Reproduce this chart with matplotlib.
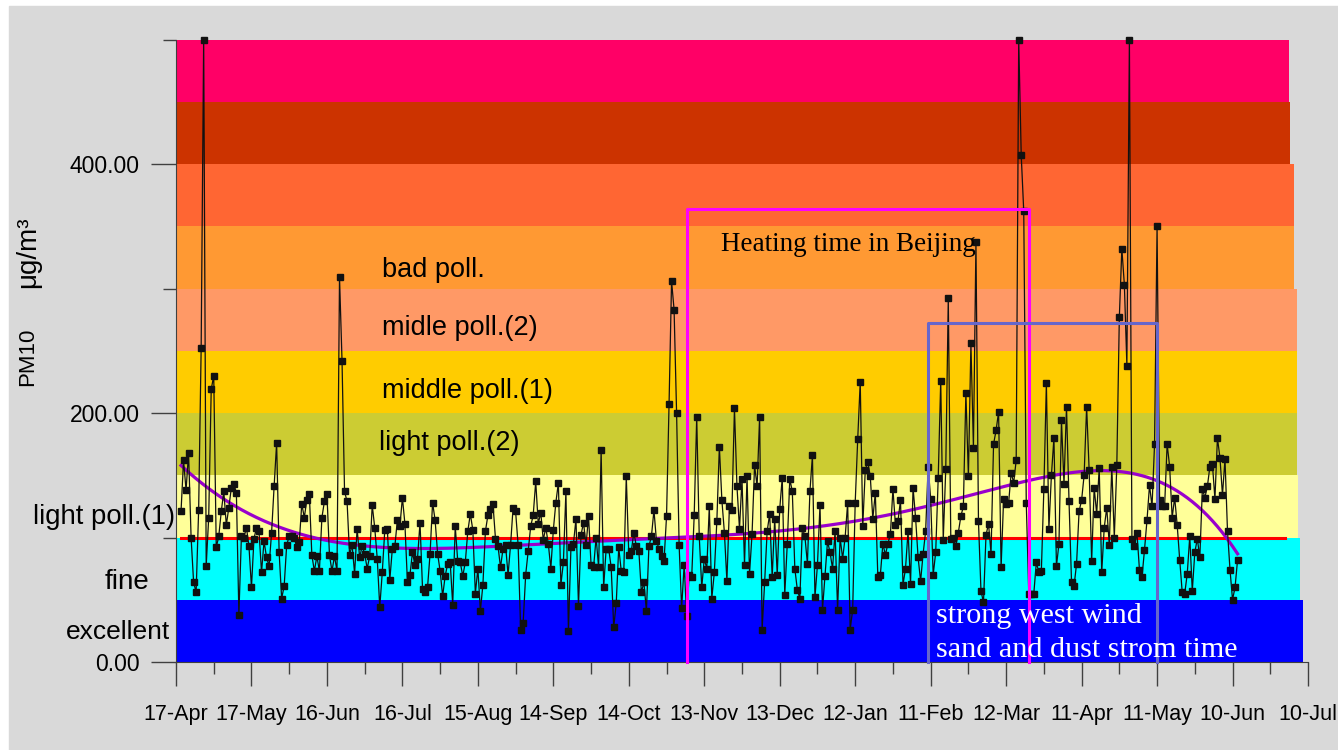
import numpy as np
import matplotlib.pyplot as plt
from matplotlib.patches import Rectangle

plt.rcParams['font.family'] = ['Liberation Sans', 'DejaVu Sans']

# daily PM10 (ug/m3), first value is 19-Apr (day 2 after 17-Apr)
pm10 = [
    121, 162, 138, 168, 100, 64, 56, 122, 252, 500, 77, 116, 219, 230, 92, 101,
    121, 137, 110, 124, 140, 143, 136, 38, 101, 100, 108, 93, 60, 99, 108, 105,
    72, 97, 84, 77, 104, 141, 176, 88, 51, 61, 94, 101, 101, 100, 92, 96,
    127, 116, 130, 135,
    86, 73, 85, 73, 116, 129, 135, 86, 73, 85, 73, 309, 242, 137, 129, 86,
    94, 71, 107, 84, 93, 87, 75, 85, 126, 108, 83, 44, 72, 106, 107, 66,
    91, 93, 114, 109, 132, 111, 64, 70, 88, 78, 83, 112, 59, 56, 60, 87,
    128, 114, 87, 73,
    53, 69, 79, 80, 46, 109, 81, 80, 69, 80, 105, 119, 106, 55, 75, 41,
    62, 105, 118, 123, 127, 99, 93, 76, 91, 94, 70, 94, 124, 121, 94, 26,
    31, 70, 89, 109, 118, 145, 111, 120, 98, 108, 95, 75, 106, 128, 144, 62,
    80, 137, 25, 92, 95, 115, 45,
    102, 112, 94, 117, 78, 76, 100, 76, 170, 60, 91, 91, 76, 28, 47, 92,
    73, 72, 149, 86, 89, 104, 93, 89, 56, 64, 41, 93, 101, 122, 97, 91,
    85, 81, 117, 207, 306, 283, 200, 94, 43, 78, 37, 70, 68, 118, 197, 101,
    60, 83, 75, 125, 51, 72,
    113, 173, 130, 104, 65, 125, 122, 204, 141, 107, 147, 78, 149, 71, 103, 158,
    141, 197, 26, 64, 105, 119, 68, 115, 70, 123, 148, 54, 95, 147, 137, 75,
    58, 51, 108, 101, 79, 137, 166, 52, 78, 126, 42, 69, 97, 88, 75, 105,
    42, 100, 83, 100, 128, 26,
    42, 128, 179, 225, 109, 154, 161, 149, 115, 136, 68, 70, 95, 86, 95, 103,
    139, 110, 113, 130, 62, 75, 105, 63, 140, 116, 84, 65, 87, 105, 157, 131,
    70, 88, 148, 226, 98, 155, 292, 99, 100, 93, 104, 117, 125, 216, 149, 256,
    172, 337, 113, 57, 48, 102,
    111, 87, 175, 186, 201, 76, 131, 127, 128, 152, 144, 162, 500, 407, 362, 128,
    55, 55, 55, 80, 72, 73, 139, 224, 107, 150, 180, 77, 95, 194, 143, 205,
    129, 64, 61, 79, 121, 130, 150, 205, 154, 81, 140, 119, 156, 72, 108, 124,
    94, 157, 100, 158,
    277, 332, 303, 238, 500, 99, 93, 104, 74, 68, 90, 114, 142, 125, 175, 350,
    130, 125, 125, 175, 157, 116, 132, 110, 82, 56, 55, 71, 101, 57, 88, 99,
    84, 139, 132, 141, 157, 159, 131, 180, 164, 134, 163, 105, 74, 50, 60, 82,
]
start_day = 2

date_labels = ['17-Apr', '17-May', '16-Jun', '16-Jul', '15-Aug', '14-Sep', '14-Oct',
               '13-Nov', '13-Dec', '12-Jan', '11-Feb', '12-Mar', '11-Apr', '11-May',
               '10-Jun', '10-Jul']

# pollution grade bands
band_edges = [0, 50, 100, 150, 200, 250, 300, 350, 400, 450, 500]
band_colors = ['#0000FF', '#00FFFF', '#FFFF99', '#CCCC33', '#FFCC00',
               '#FF9966', '#FF9933', '#FF6633', '#CC3300', '#FF0066']
band_ends = [448, 447, 446, 445.6, 445.6, 445.6, 444.4, 444.4, 442.9, 442.5]

heating = (203.2, 339, 364)      # start day, end day, box top
sandstorm = (298.8, 390, 272)

fig = plt.figure(figsize=(13.38, 7.5), dpi=100)
fig.patches.append(Rectangle((9 / 1338, 0), 1, 744 / 750, transform=fig.transFigure,
                             color='#D9D9D9', zorder=-10))
ax = fig.add_axes([176 / 1338, 88 / 750, 1132 / 1338, 622.5 / 750])
ax.set_facecolor('none')

for lo, hi, c, end in zip(band_edges[:-1], band_edges[1:], band_colors, band_ends):
    ax.add_patch(Rectangle((0.4, lo), end - 0.4, hi - lo, color=c, lw=0, zorder=1))

days = np.arange(start_day, start_day + len(pm10))
ax.plot([start_day, 441], [100, 100], color='red', lw=2.2, zorder=2)
# polynomial trend line, like the spreadsheet one
trend = np.polynomial.Polynomial.fit(days, pm10, 6)
ax.plot(days, trend(days), color='#9900CC', lw=2.3, zorder=3)
ax.plot(days, pm10, color='#111111', lw=0.9, marker='s', ms=5, zorder=4, clip_on=False)

for (d0, d1, top), c in [(heating, '#FF00FF'), (sandstorm, '#6666CC')]:
    ax.plot([d0, d0, d1, d1], [0, top, top, 0], color=c, lw=2.2, zorder=5, clip_on=False)

ax.set_xlim(0, 450)
ax.set_ylim(0, 500)
ax.set_xticks(np.arange(0, 451, 30))
ax.set_xticklabels(date_labels)
ax.set_xticks(np.arange(15, 450, 30), minor=True)
ax.set_yticks([0, 200, 400])
ax.set_yticklabels(['0.00', '200.00', '400.00'])
ax.set_yticks([100, 300, 500], minor=True)
ax.tick_params(axis='y', which='major', length=18, width=1, color='#404040', pad=8, labelsize=16.5)
ax.tick_params(axis='y', which='minor', length=9.4, width=1, color='#404040')
ax.tick_params(axis='x', which='major', length=17.3, width=1, color='#404040', pad=13, labelsize=15.5)
ax.tick_params(axis='x', which='minor', length=8.6, width=1, color='#404040')
for s in ['top', 'right']:
    ax.spines[s].set_visible(False)
for s in ['left', 'bottom']:
    ax.spines[s].set_color('#404040')

ax.text(81.7, 315, 'bad poll.', fontsize=19.5, va='center', zorder=6)
ax.text(82, 268, 'midle poll.(2)', fontsize=19.5, va='center', zorder=6)
ax.text(82, 218, 'middle poll.(1)', fontsize=19.5, va='center', zorder=6)
ax.text(80.6, 176, 'light poll.(2)', fontsize=19.5, va='center', zorder=6)

yt = ax.get_yaxis_transform()
ax.text(-0.001, 116.5, 'light poll.(1)', transform=yt, ha='right', va='center', fontsize=19.8)
ax.text(-0.0433, 64, 'fine', transform=yt, ha='center', va='center', fontsize=20)
ax.text(-0.0512, 24, 'excellent', transform=yt, ha='center', va='center', fontsize=19)

serif = ['Liberation Serif', 'DejaVu Serif']
ax.text(216.7, 335, 'Heating time in Beijing', family=serif, fontsize=19.5, va='center', zorder=6)
ax.text(302, 37, 'strong west wind', family=serif, fontsize=21.7, color='white', va='center', zorder=6)
ax.text(302, 9.6, 'sand and dust strom time', family=serif, fontsize=21.7, color='white',
        va='center', zorder=6)

fig.text(28 / 1338, 1 - 357 / 750, 'PM10', rotation=90, ha='center', va='center', fontsize=16)
fig.text(28 / 1338, 1 - 252 / 750, 'μg/m³', rotation=90, ha='center', va='center', fontsize=20)

fig.savefig('out.png', dpi=100)
